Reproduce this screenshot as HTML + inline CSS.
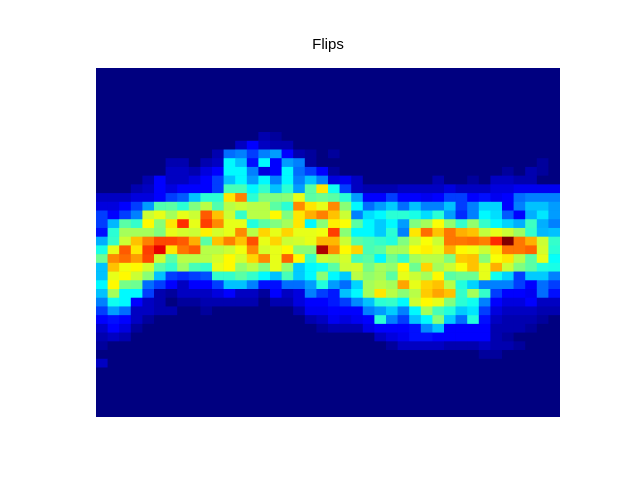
<!DOCTYPE html>
<html><head><meta charset="utf-8"><style>
body{margin:0;background:#fff;}
#c{position:absolute;left:0;top:0;width:640px;height:480px;}
</style></head><body>
<svg id="c" width="640" height="480">
<rect x="0" y="0" width="640" height="480" fill="#fff"/>
<text x="328" y="49" text-anchor="middle" font-family="Liberation Sans, sans-serif" font-size="15" fill="#000">Flips</text>
<defs><clipPath id="plotclip"><rect x="96" y="68" width="464" height="349"/></clipPath></defs>
<rect x="96" y="68" width="464" height="349" fill="rgb(0,0,128)"/>
<g id="cells" clip-path="url(#plotclip)"></g>
</svg>
<script>
const nCols = 40;
const nRows = 40;
const vmax = 10.8;
const rowStart = 7;
const rows = [
/*7*/ [0,0,0,0,0,0,0,0,0,0,0,0,0,0, 0.5,0.3,0,0,0,0,0,0,0,0,0,0,0, 0,0,0,0,0,0,0,0,0,0,0,0,0],
/*8*/ [0,0,0,0,0,0,0,0,0,0,0,0,0.7,1.35, 0.7,0.5,0.5,0,0,0,0,0,0,0,0,0,0, 0,0,0,0,0,0,0,0,0,0,0,0,0],
/*9*/ [0,0,0,0,0,0,0,0,0,0,0.5,2.5,2.7,2, 2.7,3,1.35,0.5,0.3,0,0.3,0,0,0,0,0,0, 0,0,0,0,0,0,0,0,0,0,0,0,0],
/*10*/[0,0,0,0,0,0,0.5,0.5,0,0.5,0.7,4,3.4,1.5, 4,1.35,3,2.7,0.3,0,0,0,0,0,0,0,0, 0,0,0,0,0,0,0,0,0,0,0,0.3,0],
/*11*/[0,0,0,0,0,0,0.7,0.7,0.5,1,1.35,4,4,2.7, 1,1.35,4,2.5,2,1.35,0.3,0,0,0,0,0,0, 0,0,0,0,0,0,0,0,0.3,0,0.5,0.3,0],
/*12*/[0,0,0,0,0.5,1.35,0.7,0.7,1,1.35,2,3.4,4,3, 4,2.7,4,2.7,3.4,2.7,1,1.2,0.7,0,0,0,0, 0,0,0.5,0,0,0.3,0,0.7,0.7,0.5,0.5,0,0],
/*13*/[0,0,0,0.5,0.7,1.35,1,1.35,1.35,1.35,2,4.8,4.8,4, 4.6,3.4,4.5,3,5,7,4.2,2,0.7,0.5,0.5,0.5,0.7, 0.7,0.7,0.7,1,0.7,0.7,0.7,1,1,1.2,1.2,1.2,1.2],
/*14*/[0.7,0.7,0.7,1,1,1.35,2,2.3,3.4,4.5,4.5,7,8.1,4.5, 5.4,5.4,5.5,6.5,5,5.2,5,4.5,3,1.35,1.35,2,1.35, 1.35,1.2,1.35,2,2,1.35,1.5,1.2,1.35,2.5,2.7,2.7,2.7],
/*15*/[1,1,1.35,2,3,4.9,5,4.5,5.4,6,4.9,6,6.2,6, 6,5,4.5,8,7,6.5,8,5.5,4,2.5,3,3.5,2.5, 3.4,2.7,2.7,3.4,2,2.7,3.6,3.6,1.35,2.7,3.4,3.4,3],
/*16*/[2,1.35,2,2.7,6.2,6.5,5.8,6.5,6.2,8.5,7.4,6.2,4.6,6, 6,6.8,5.4,7,7.6,8.1,7.4,6.2,2.7,3.7,4,4.5,4.5, 4.3,3.7,4.5,3,1.8,2.7,4,3.7,2.3,1.35,3.2,3.8,3],
/*17*/[2,3.3,5,4.6,6.8,5.5,7,9,6.5,8.8,8,6.5,6.5,4.4, 5,5.4,5.8,7,4,5.5,6.9,6.7,5,4,3.5,4,3, 5.4,5.8,6.7,5.6,4.6,5.6,4.6,4,3.6,3.2,4.7,3.2,2.7],
/*18*/[1.5,4.5,5.8,5.8,5.8,5.4,6.5,6.3,6.2,6.9,6.3,6.5,8,6, 7.2,6.5,7.2,6.5,6.5,6.6,8.8,5.5,4,4,3.5,4.5,2.7, 7,8.3,7.4,8.2,7.6,7.4,6.1,6.5,6.2,5.7,4.6,3.3,3.4],
/*19*/[3.2,4.6,6.2,7.4,8.1,8.7,8.7,8.5,7.6,5,7.4,8.1,7.4,8.6, 6.5,7.2,6.2,6.3,6.5,7.5,7.5,6.2,5,4.8,4.6,4.4,5.4, 6.2,6.7,6.2,8.2,8.2,8.3,8.1,9,10.8,8.2,7.6,6.2,4.6],
/*20*/[4.3,6.5,8.5,7,8.8,9.7,7,8.2,8.5,6,6,6.2,6.6,8, 6.3,6.5,6.8,5.5,5.5,10.3,8,6.8,7.2,4.8,5,5.8,5.8, 6.7,6.9,6.5,7.6,6.8,6.6,6.2,7,8.2,8.2,8.4,6.3,4.5],
/*21*/[5.2,8,8.3,7.8,8.7,6.2,5,6,6,6,6.3,6.8,6.3,7.2, 8,6.5,8.4,6.8,4.6,6.2,6,6.3,4.8,5,4,5.2,4.6, 5.8,6,6,5.4,7.3,7.4,5.5,6.7,7,6,5,6.5,4.1],
/*22*/[3.4,7.4,6.6,6.8,6.3,5,4.6,5.7,4.8,4.6,6.5,6.8,5.6,6, 5.4,6.5,5.6,3.5,4,4.2,5,6.2,6.3,5.3,5.8,5.6,6.8, 5.2,7.2,5.8,6.2,6.7,7.4,6.5,7.6,6.2,5.4,5,4.4,4.3],
/*23*/[3.4,6.5,6.8,6.2,5.5,3.4,2,1.8,2,2.2,4.6,4.6,5,4.6, 4,3.4,4.8,3.5,4,5.5,4,3.5,6,5.6,5.8,5,6.5, 6.2,5.8,6.8,5,5.2,5.2,6.5,4.2,3.6,2,3.5,3.5,2.7],
/*24*/[4,6.8,5.3,5.2,2.5,2,1.35,0.7,1.35,1.35,2,3.4,3.4,2.7, 1.5,1.5,2.5,2.5,3,4.4,3,2.5,3.6,5.8,6,5.8,7.7, 6.5,7.2,7.4,6,4.4,3.6,2.7,2.7,2.7,2,1.35,2.5,2],
/*25*/[3.4,5.8,4,4,2,0.5,0.3,0.7,0.7,0.7,1,1.35,0.7,0.7, 0.3,1.35,0.7,1,2.7,2,1.6,3.4,4,5.8,7,6,5.5, 6,7.3,7.7,7.4,4.6,5.8,4.6,2,1.35,1.35,1.2,2.5,1.5],
/*26*/[2.7,4.2,4,1.35,0.7,0.5,0,0.3,0.3,0.5,0.5,0.5,0.5,0.5, 0,0.5,0.5,1,1.35,1.35,1.6,2,2.8,3.4,4.5,4.6,4, 6.2,6.8,6.5,5.4,4.5,4.2,2.7,1.35,1,1,1.35,0.7,0.7],
/*27*/[2,3,2.5,0.7,0.7,0.5,0.5,0,0,0.3,0,0,0,0, 0,0,0,0.5,1.2,1.2,1.35,1.35,1.35,2.7,3,3.5,2.7, 4,5.8,4.8,4.4,3.5,3.8,2,1,0.7,0.7,0.7,0.5,0.5],
/*28*/[1.35,1.5,1.35,0.7,0.3,0,0,0,0,0,0,0,0,0, 0,0,0,0,0.5,0.7,1.2,1,1.2,1.35,4.5,2.7,2, 3.4,4,5.5,3.5,2.5,4.4,1.5,0.7,0.5,0.5,0.5,0.3,0],
/*29*/[0.8,1.35,1,0.3,0,0,0,0,0,0,0,0,0,0, 0,0,0,0,0,0.3,0.5,0.5,0.5,1.1,1.35,1.35,1.35, 1.5,2.8,3.4,1.35,1.35,1.35,1.35,0.5,0.5,0.5,0.3,0,0],
/*30*/[0.5,0.7,0.5,0,0,0,0,0,0,0,0,0,0,0, 0,0,0,0,0,0,0,0,0,0,0.7,1,1.2, 1.5,1.5,1.35,1.35,1.35,1.35,1.35,0.5,0.3,0,0,0,0],
/*31*/[0.3,0,0,0,0,0,0,0,0,0,0,0,0,0, 0,0,0,0,0,0,0,0,0,0,0,0.3,0.7, 0.7,0.7,0.7,0.5,0.5,0.5,0.7,0.5,0.5,0.3,0,0,0],
/*32*/[0,0,0,0,0,0,0,0,0,0,0,0,0,0, 0,0,0,0,0,0,0,0,0,0,0,0,0, 0,0,0,0,0,0,0.3,0.3,0,0,0,0,0],
/*33*/[0.7,0,0,0,0,0,0,0,0,0,0,0,0,0, 0,0,0,0,0,0,0,0,0,0,0,0,0, 0,0,0,0,0,0,0,0,0,0,0,0,0]
];
const x0 = 96, x1 = 560, gridTop = 71, rowH = 8.72;
function xScale(c){ return x0 + c*(x1-x0)/nCols; }
function yScale(r){ return gridTop + r*rowH; }
function jet(v){
  const t = Math.max(0, Math.min(1, v/vmax));
  function cl(x){ return Math.max(0, Math.min(1, x)); }
  const r = cl(1.5 - Math.abs(4*t - 3));
  const g = cl(1.5 - Math.abs(4*t - 2));
  const b = cl(1.5 - Math.abs(4*t - 1));
  return 'rgb(' + Math.round(r*255) + ',' + Math.round(g*255) + ',' + Math.round(b*255) + ')';
}
function value(r, c){
  const i = r - rowStart;
  if (i < 0 || i >= rows.length) return 0;
  return rows[i][c] || 0;
}
const g = document.getElementById('cells');
const ns = 'http://www.w3.org/2000/svg';
for (let r = -1; r < nRows; r++){
  for (let c = 0; c < nCols; c++){
    const el = document.createElementNS(ns, 'rect');
    const xa = xScale(c), xb = xScale(c+1), ya = yScale(r), yb = yScale(r+1);
    el.setAttribute('x', xa);
    el.setAttribute('y', ya);
    el.setAttribute('width', xb - xa + 0.3);
    el.setAttribute('height', yb - ya + 0.3);
    el.setAttribute('fill', jet(value(r, c)));
    
    
    g.appendChild(el);
  }
}
</script>
</body></html>
